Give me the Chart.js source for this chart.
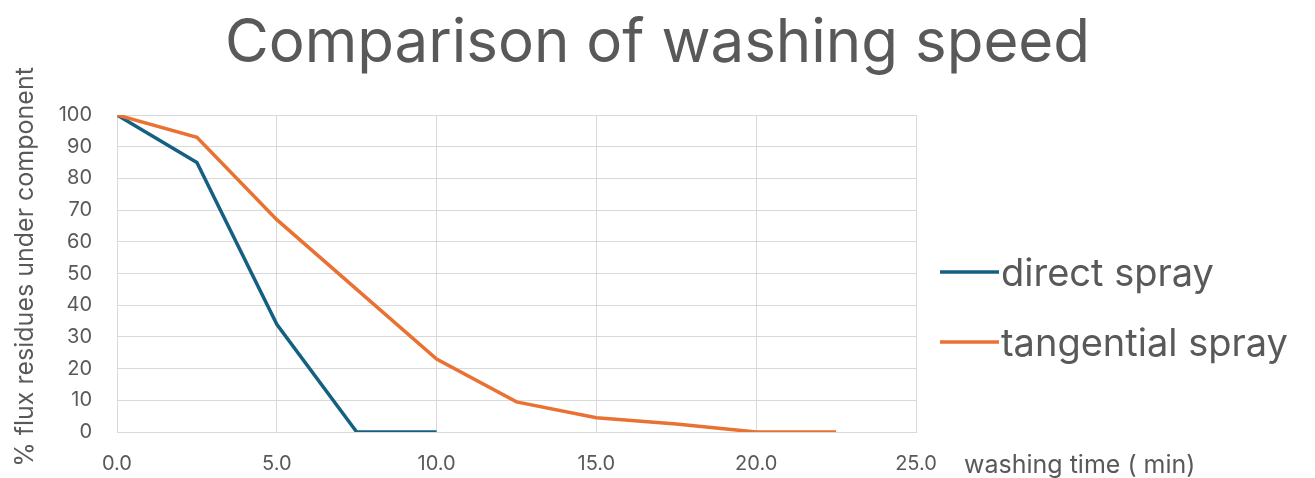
<!DOCTYPE html>
<html>
<head>
<meta charset="utf-8">
<script src="https://cdn.jsdelivr.net/npm/chart.js@4/dist/chart.umd.min.js"></script>
<style>
  html, body { margin: 0; padding: 0; background: #ffffff; }
  #wrap { width: 1315px; height: 478px; }
</style>
</head>
<body>
<div id="wrap"><canvas id="c" width="1315" height="478"></canvas></div>
<script>
// Washing time (min) and share of flux residues left under the component (%)
const timeMin = [0, 2.5, 5, 7.5, 10, 12.5, 15, 17.5, 20, 22.5];
const directSpray = [100, 85, 34, 0, 0];
const tangentialSpray = [100, 93, 67, 45, 23, 9.5, 4.5, 2.5, 0, 0];
const seriesNames = ['direct spray', 'tangential spray'];
const yTicks = [0, 10, 20, 30, 40, 50, 60, 70, 80, 90, 100];
const xTicks = [0, 5, 10, 15, 20, 25];
const chartTitle = 'Comparison of washing speed';
const yTitle = '% flux residues under component';
const xTitle = 'washing time ( min)';

const FONT = 'Inter, "Open Sans", "Liberation Sans", sans-serif';
const GREY = '#595959';
const BLUE = '#156082';
const ORANGE = '#E97132';

const toPoints = (ys) => ys.map((y, i) => ({ x: timeMin[i], y }));

// Title, axis captions and legend drawn around the plot area
const sideText = {
  id: 'sideText',
  afterDraw(chart) {
    const ctx = chart.ctx;
    ctx.save();
    ctx.fillStyle = GREY;

    // chart title, centred on the canvas
    ctx.textAlign = 'center';
    ctx.textBaseline = 'alphabetic';
    ctx.font = '60px ' + FONT;
    ctx.fillText(chartTitle, chart.width / 2, 62);

    // vertical y-axis caption
    ctx.save();
    ctx.translate(33, 267);
    ctx.rotate(-Math.PI / 2);
    ctx.font = '25px ' + FONT;
    ctx.textAlign = 'center';
    ctx.fillText(yTitle, 0, 0);
    ctx.restore();

    // x-axis caption, level with the tick labels
    ctx.textAlign = 'left';
    ctx.font = '25px ' + FONT;
    ctx.fillText(xTitle, 964, 473);

    // legend
    ctx.font = '38px ' + FONT;
    const items = [
      { label: seriesNames[0], color: BLUE, lineY: 272, baseY: 286 },
      { label: seriesNames[1], color: ORANGE, lineY: 342, baseY: 356 }
    ];
    items.forEach(it => {
      ctx.strokeStyle = it.color;
      ctx.lineWidth = 3.5;
      ctx.beginPath();
      ctx.moveTo(940, it.lineY);
      ctx.lineTo(999, it.lineY);
      ctx.stroke();
      ctx.fillStyle = GREY;
      ctx.fillText(it.label, 1001, it.baseY);
    });
    ctx.restore();
  }
};

new Chart(document.getElementById('c'), {
  type: 'line',
  data: {
    datasets: [
      {
        label: seriesNames[0],
        data: toPoints(directSpray),
        borderColor: BLUE,
        backgroundColor: BLUE,
        borderWidth: 3.5,
        pointRadius: 0,
        tension: 0,
        order: 1
      },
      {
        label: seriesNames[1],
        data: toPoints(tangentialSpray),
        borderColor: ORANGE,
        backgroundColor: ORANGE,
        borderWidth: 3.5,
        pointRadius: 0,
        tension: 0,
        order: 0
      }
    ]
  },
  options: {
    responsive: false,
    animation: false,
    devicePixelRatio: 1,
    layout: { padding: { left: 0, right: 399, top: 115, bottom: 0 } },
    plugins: {
      legend: { display: false },
      tooltip: { enabled: false },
      title: { display: false }
    },
    scales: {
      x: {
        type: 'linear',
        min: 0,
        max: 25,
        afterBuildTicks(scale) { scale.ticks = xTicks.map(v => ({ value: v })); },
        afterFit(scale) { scale.height = 46; },
        ticks: {
          color: GREY,
          font: { family: FONT, size: 20 },
          padding: 20,
          maxRotation: 0,
          callback: (v) => Number(v).toFixed(1)
        },
        grid: { color: '#d9d9d9', lineWidth: 1, drawTicks: false },
        border: { color: '#d9d9d9', width: 1 }
      },
      y: {
        min: 0,
        max: 100,
        afterBuildTicks(scale) { scale.ticks = yTicks.map(v => ({ value: v })); },
        afterFit(scale) { scale.width = 117; },
        ticks: {
          color: GREY,
          font: { family: FONT, size: 20 },
          padding: 25
        },
        grid: { color: '#d9d9d9', lineWidth: 1, drawTicks: false },
        border: { color: '#d9d9d9', width: 1 }
      }
    }
  },
  plugins: [sideText]
});
</script>
</body>
</html>
